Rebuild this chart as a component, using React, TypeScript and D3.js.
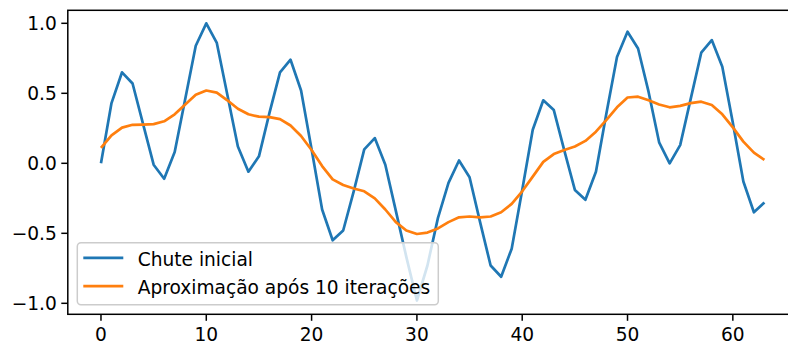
import React from "react";
import * as d3 from "d3";

const WIDTH = 788;
const HEIGHT = 347;

const seriesNames = ["Chute inicial", "Aproximação após 10 iterações"];
const seriesColors = ["#1f77b4", "#ff7f0e"];

const chuteInicial = [
  0.0, 0.43, 0.65, 0.57, 0.28, -0.01, -0.11, 0.08, 0.46, 0.84,
  1.0, 0.86, 0.49, 0.12, -0.06, 0.05, 0.36, 0.65, 0.74, 0.52,
  0.1, -0.33, -0.55, -0.48, -0.2, 0.1, 0.18, -0.01, -0.34, -0.67,
  -0.98, -0.73, -0.39, -0.14, 0.02, -0.1, -0.42, -0.73, -0.81, -0.61,
  -0.19, 0.24, 0.45, 0.38, 0.09, -0.19, -0.26, -0.06, 0.36, 0.76,
  0.94, 0.82, 0.51, 0.15, 0.0, 0.13, 0.46, 0.79, 0.88, 0.69,
  0.29, -0.13, -0.35, -0.28,
];

const aproximacao = [
  0.11, 0.2, 0.255, 0.275, 0.277, 0.28, 0.3, 0.35, 0.42, 0.49,
  0.52, 0.505, 0.45, 0.39, 0.35, 0.333, 0.33, 0.316, 0.27, 0.195,
  0.095, -0.02, -0.115, -0.155, -0.18, -0.2, -0.25, -0.33, -0.42, -0.48,
  -0.505, -0.495, -0.465, -0.42, -0.386, -0.38, -0.386, -0.38, -0.35, -0.29,
  -0.2, -0.095, 0.01, 0.066, 0.095, 0.12, 0.16, 0.226, 0.31, 0.4,
  0.47, 0.476, 0.45, 0.42, 0.4, 0.41, 0.43, 0.44, 0.417, 0.35,
  0.257, 0.155, 0.076, 0.024,
];

const xTicks = [0, 10, 20, 30, 40, 50, 60];
const yTicks = [-1.0, -0.5, 0.0, 0.5, 1.0];
const xDomain = [-3.15, 66.15];
const yDomain = [-1.0785, 1.0929];

const FONT = "DejaVu Sans, sans-serif";
const FS = 18.6;

function fmtY(v: number) {
  const s = Math.abs(v).toFixed(1);
  return v < 0 ? "\u2212" + s : s;
}

export default function App() {
  const x = d3.scaleLinear().domain(xDomain).range([67.8, 797.6]);
  const y = d3.scaleLinear().domain(yDomain).range([314.3, 10.3]);
  const left = x(xDomain[0]);
  const right = x(xDomain[1]);
  const top = y(yDomain[1]);
  const bottom = y(yDomain[0]);

  const line = d3
    .line<number>()
    .x((_, i) => x(i))
    .y((d) => y(d));

  const series = [chuteInicial, aproximacao];
  const tickLen = 6.5;
  const pad = 6.5;

  const legX = left + 9.5;
  const legBottom = bottom - 9.5;
  const legH = 62;
  const legW = 361;
  const legY = legBottom - legH;

  return (
    <svg
      width={WIDTH}
      height={HEIGHT}
      style={{ position: "absolute", left: 0, top: 0, background: "#fff" }}
      fontFamily={FONT}
    >
      <rect x={0} y={0} width={WIDTH} height={HEIGHT} fill="#fff" />
      <defs>
        <clipPath id="plotclip">
          <rect x={left} y={top} width={right - left} height={bottom - top} />
        </clipPath>
      </defs>
      <g clipPath="url(#plotclip)">
        {series.map((s, k) => (
          <path
            key={k}
            d={line(s) || ""}
            fill="none"
            stroke={seriesColors[k]}
            strokeWidth={2.7}
            strokeLinejoin="round"
            strokeLinecap="butt"
          />
        ))}
      </g>
      {/* spines */}
      <rect
        x={left}
        y={top}
        width={right - left}
        height={bottom - top}
        fill="none"
        stroke="#000"
        strokeWidth={1.5}
      />
      {/* x ticks */}
      {xTicks.map((t) => (
        <g key={"x" + t}>
          <line x1={x(t)} x2={x(t)} y1={bottom} y2={bottom + tickLen} stroke="#000" strokeWidth={1.5} />
          <text x={x(t)} y={bottom + tickLen + pad + 13.5} fontSize={FS} textAnchor="middle" fill="#000">
            {t}
          </text>
        </g>
      ))}
      {/* y ticks */}
      {yTicks.map((t) => (
        <g key={"y" + t}>
          <line x1={left - tickLen} x2={left} y1={y(t)} y2={y(t)} stroke="#000" strokeWidth={1.5} />
          <text x={left - tickLen - pad + 2} y={y(t) + 6.7} fontSize={FS} textAnchor="end" fill="#000">
            {fmtY(t)}
          </text>
        </g>
      ))}
      {/* legend */}
      <rect
        x={legX}
        y={legY}
        width={legW}
        height={legH}
        rx={3.7}
        fill="#fff"
        fillOpacity={0.8}
        stroke="#cccccc"
        strokeWidth={1.5}
      />
      {seriesNames.map((name, k) => {
        const cy = legY + 15 + k * 28.4;
        return (
          <g key={name}>
            <line x1={legX + 6} x2={legX + 46} y1={cy} y2={cy} stroke={seriesColors[k]} strokeWidth={2.7} />
            <text x={legX + 60.4} y={cy + 8.2} fontSize={FS} fill="#000">
              {name}
            </text>
          </g>
        );
      })}
    </svg>
  );
}
